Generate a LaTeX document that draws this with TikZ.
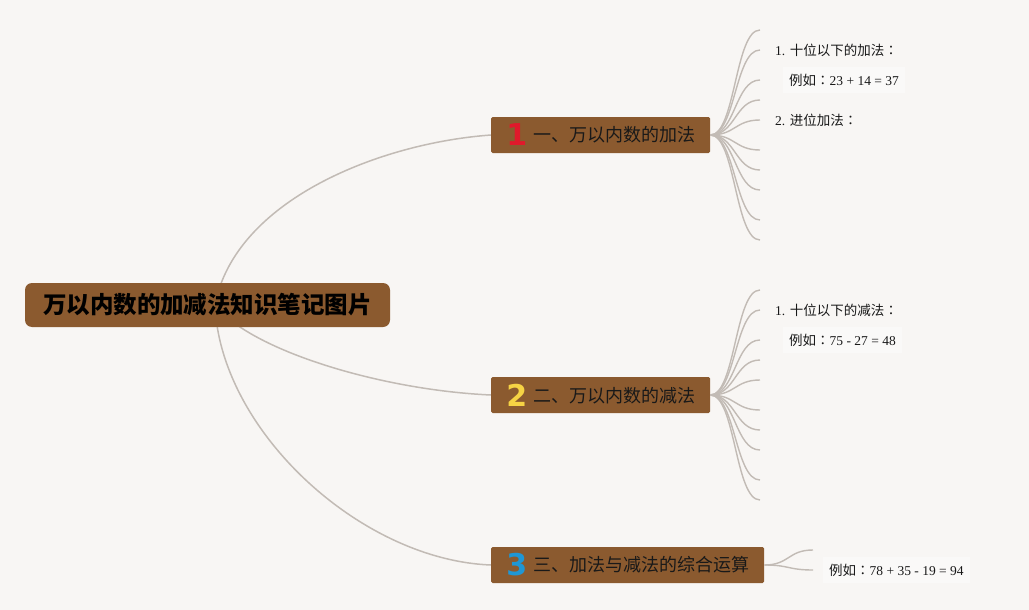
\documentclass[tikz,border=0pt]{standalone}
\usepackage{fontspec}
\setmainfont{Liberation Serif}
\newfontfamily\cjk{Noto Sans CJK SC}
\newfontfamily\cjktc{Noto Sans CJK TC}
\newfontfamily\numfont{DejaVu Sans}
\usetikzlibrary{positioning}
\definecolor{paper}{HTML}{F8F6F4}
\definecolor{bark}{HTML}{8B5A2F}
\definecolor{twiggrey}{HTML}{C2BBB5}
\definecolor{numred}{HTML}{E0192B}
\definecolor{numyellow}{HTML}{F6D344}
\definecolor{numblue}{HTML}{1F97D5}
\pgfdeclarelayer{back}
\pgfsetlayers{back,main}
\newcommand{\topicnum}[2]{\makebox[17pt][r]{\raisebox{-4pt}{\numfont\bfseries\fontsize{30}{30}\selectfont\color{#1}#2}}\hspace{6pt}}
\newcommand{\colonmark}{{\cjktc ：}}

\begin{document}
\begin{tikzpicture}[x=1pt, y=-1pt,
                    mbox/.style = {fill = bark, rounded corners = 7pt, minimum width = 365pt, minimum height = 44pt,
                                   font = \cjk\bfseries\fontsize{23.5}{23.5}\selectfont, text = black},
                    tbox/.style = {anchor = west, fill = bark, rounded corners = 1.5pt, minimum height = 36pt,
                                   inner xsep = 15pt, font = \cjk\fontsize{18}{18}\selectfont, text = black!90},
                    limb/.style = {twiggrey, line width = 1.5pt},
                    twig/.style = {twiggrey, line width = 1.4pt},
                    leaf/.style = {anchor = west, inner sep = 0pt, font = \fontsize{13.5}{13.5}\selectfont, text = black!90},
                    note/.style = {leaf, fill = white!35!paper, inner xsep = 6pt, inner ysep = 7pt}
                ]

    \begin{pgfonlayer}{back}
        \fill[paper] (0,0) rectangle (1029,610);
    \end{pgfonlayer}
    \useasboundingbox (0,0) rectangle (1029,610);

    % main nodes
    \node[mbox] (root) at (207.5,305) {万以内数的加减法知识笔记图片};
    \coordinate (hub) at (215,305);

    \node[tbox] (add) at (491,135) {\hspace{4pt}\topicnum{numred}{1}一、万以内数的加法};
    \node[tbox] (sub) at (491,395) {\hspace{4pt}\topicnum{numyellow}{2}二、万以内数的减法};
    \node[tbox] (mix) at (491,565) {\hspace{4pt}\topicnum{numblue}{3}三、加法与减法的综合运算};

    % fan ends
    \foreach \y [count=\i] in {30,50,80,100,120,150,170,190,220,240}
        \coordinate (a\i) at (760,\y);
    \foreach \y [count=\i] in {290,310,340,360,380,410,430,450,480,500}
        \coordinate (b\i) at (760,\y);
    \coordinate (c1) at (813,550);
    \coordinate (c2) at (813,570);

    % leaves
    \node[leaf, right = 15pt of a2] (a2t) {1. {\cjk 十位以下的加法}\colonmark};
    \node[note, right = 23pt of a3] (a3t) {{\cjk 例如}\colonmark 23 + 14 = 37};
    \node[leaf, right = 15pt of a5] (a5t) {2. {\cjk 进位加法}\colonmark};

    \node[leaf, right = 15pt of b2] (b2t) {1. {\cjk 十位以下的减法}\colonmark};
    \node[note, right = 23pt of b3] (b3t) {{\cjk 例如}\colonmark 75 - 27 = 48};

    \node[note, right = 10pt of c2] (c2t) {{\cjk 例如}\colonmark 78 + 35 - 19 = 94};

    % connectors
    \begin{pgfonlayer}{back}
        \draw[limb] (hub) .. controls (235,200) and (380,143) .. (add.west);
        \draw[limb] (hub) .. controls (250,350) and (380,390) .. (sub.west);
        \draw[limb] (hub) .. controls (220,430) and (360,560) .. (mix.west);
    \end{pgfonlayer}

    \foreach \i in {1,...,10} {
        \draw[twig] (add.east) .. controls +(25,0) and +(-25,0) .. (a\i);
        \draw[twig] (sub.east) .. controls +(25,0) and +(-25,0) .. (b\i);
    }
    \draw[twig] (mix.east) .. controls +(25,0) and +(-25,0) .. (c1);
    \draw[twig] (mix.east) .. controls +(25,0) and +(-25,0) .. (c2);

\end{tikzpicture}
\end{document}
